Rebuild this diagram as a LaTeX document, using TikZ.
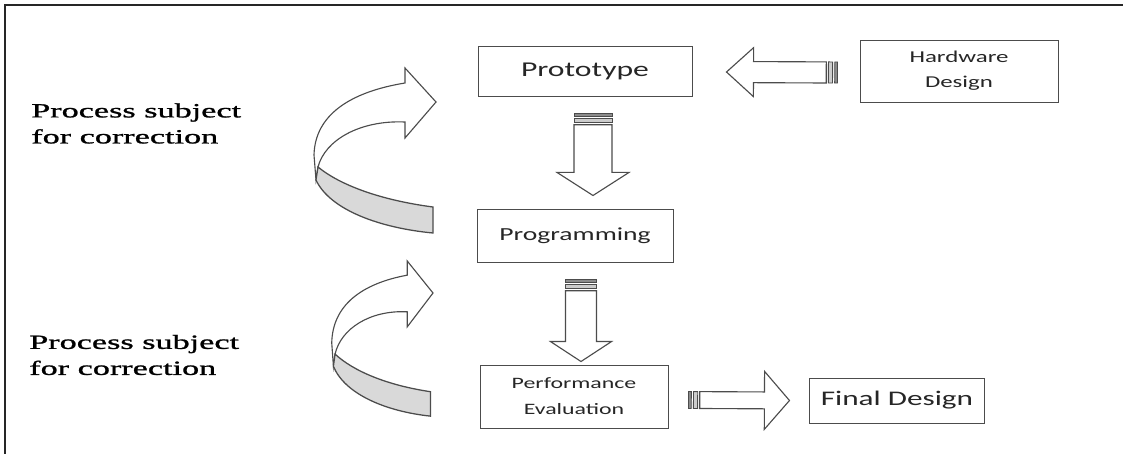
\documentclass[tikz,border=0pt]{standalone}
\usepackage{fontspec}
\newfontfamily\notefont[FakeStretch=1.7,FakeBold=1.2]{Liberation Serif}
\newfontfamily\boxfont[FakeStretch=1.5]{Carlito}
\usetikzlibrary{calc}

\tikzset{
  stage/.style={draw=black!70, line width=0.7pt, rectangle, inner sep=0pt, align=center, text=black!85},
  note/.style={align=left, inner sep=0pt, font=\notefont\fontsize{14.3}{18.5}\selectfont},
  blockarrow/.style={draw=black!70, line width=0.8pt, fill=white, line join=miter},
  stripe/.style={draw=black!70, line width=0.6pt, fill=black!45},
  band/.style={draw=black!70, line width=0.9pt, fill=black!15},
  frame/.style={draw=black!85, line width=1.2pt}
}

% striped block arrow: tail, tip, half shaft, half head, head length
\newcommand{\stripedarrow}[5]{%
  \coordinate (ta) at (#1);
  \coordinate (tb) at (#2);
  \coordinate (hb) at ($(tb)!#5!(ta)$);
  \coordinate (s1) at ($(ta)!2pt!(tb)$);
  \coordinate (s2) at ($(ta)!3.5pt!(tb)$);
  \coordinate (s3) at ($(ta)!6.5pt!(tb)$);
  \coordinate (s4) at ($(ta)!8pt!(tb)$);
  \filldraw[stripe] ($(ta)!#3!90:(tb)$) -- ($(s1)!#3!90:(tb)$) -- ($(s1)!#3!-90:(tb)$) -- ($(ta)!#3!-90:(tb)$) -- cycle;
  \filldraw[stripe, fill=black!20] ($(s2)!#3!90:(tb)$) -- ($(s3)!#3!90:(tb)$) -- ($(s3)!#3!-90:(tb)$) -- ($(s2)!#3!-90:(tb)$) -- cycle;
  \filldraw[blockarrow] ($(s4)!#3!90:(tb)$) -- ($(hb)!#3!-90:(s4)$) -- ($(hb)!#4!-90:(s4)$) -- (tb)
    -- ($(hb)!#4!90:(s4)$) -- ($(hb)!#3!90:(s4)$) -- ($(s4)!#3!-90:(tb)$) -- cycle;
}

\begin{document}
\begin{tikzpicture}[x=0.025cm, y=-0.025cm]
  \useasboundingbox (0,0) rectangle (1123,454);
  \draw[frame] (1123,5) -- (5,5) -- (5,454);

  % stages
  \node[stage, minimum width=152.2pt, minimum height=34.9pt, font=\boxfont\fontsize{15}{18}\selectfont] (proto) at (585,71.5) {Prototype};
  \node[stage, minimum width=140.8pt, minimum height=44.1pt, font=\boxfont\fontsize{11.8}{17.8}\selectfont] (hw) at (959,71) {Hardware\\Design};
  \node[stage, minimum width=139.4pt, minimum height=37pt, font=\boxfont\fontsize{13.1}{16}\selectfont] (prog) at (575,236) {Programming};
  \node[stage, minimum width=133.7pt, minimum height=44.8pt, font=\boxfont\fontsize{11.3}{18.5}\selectfont] (perf) at (574,396.5) {Performance\\Evaluation};
  \node[stage, minimum width=123.8pt, minimum height=32pt, font=\boxfont\fontsize{14.8}{18}\selectfont] (final) at (897,400.5) {Final Design};

  % side notes
  \node[note, anchor=west] (corr1) at (31,123.5) {Process subject\\for correction};
  \node[note, anchor=west] (corr2) at (29,355) {Process subject\\for correction};

  % flow arrows
  \stripedarrow{$(hw.west)+(-22,1.5)$}{$(proto.east)+(34,0.5)$}{7.5pt}{17.4pt}{19.2pt}
  \stripedarrow{$(proto.south)+(8,17)$}{$(prog.north)+(18,-14)$}{13.5pt}{25.6pt}{16.4pt}
  \stripedarrow{$(prog.south)+(6,17)$}{$(perf.north)+(7,-3)$}{11pt}{21.7pt}{14.2pt}
  \stripedarrow{$(perf.east)+(20,3.5)$}{$(final.west)+(-20,0)$}{6pt}{20.6pt}{17.8pt}

  % bent arrows for the corrections
  \foreach \tx/\ty/\sx/\sy in {436/102/1/1, 433/293/0.83/0.94}{
    \begin{scope}[shift={(\tx,\ty)}, xscale=\sx, yscale=\sy]
      \filldraw[blockarrow] (-120,78) -- (-122,53) .. controls (-121,13) and (-86,-10) .. (-31,-19)
        -- (-31,-34) -- (0,0) -- (-31,36) -- (-31,20) .. controls (-76,18) and (-111,38) .. (-118,65) -- cycle;
      \filldraw[band] (-118,65) .. controls (-96,83) and (-56,98) .. (-3,105) -- (-3,131)
        .. controls (-56,126) and (-106,108) .. (-120,78) -- cycle;
    \end{scope}
  }
\end{tikzpicture}
\end{document}
